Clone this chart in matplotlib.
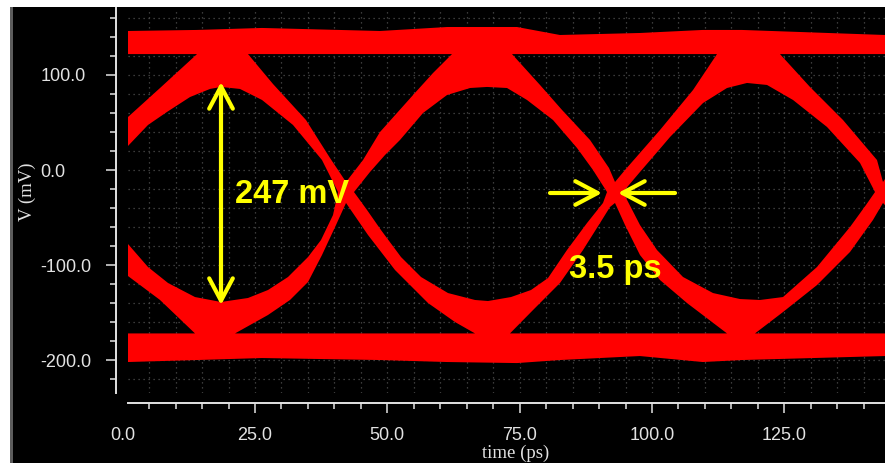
import matplotlib
matplotlib.use("Agg")
import numpy as np
import matplotlib.pyplot as plt
from matplotlib.path import Path
from matplotlib.patches import PathPatch, Rectangle
from matplotlib.ticker import MultipleLocator, FormatStrFormatter

plt.rcParams['font.family'] = ['Liberation Sans', 'DejaVu Sans']
plt.rcParams['axes.unicode_minus'] = False

# ---------------- data (time in ps, voltage in mV) -------------
# outer envelope of the red trace cloud
env_t = [1.0, 14.0, 26.3, 48.6, 61.3, 74.5, 82.6, 97.7, 109.6, 117.0, 144.02]
env_top = [146.3, 147.4, 149.5, 146.3, 150.5, 150.5, 142.1, 144.2, 147.4, 147.4, 142.1]
env_bot = [-202.1, -200.0, -197.9, -200.0, -202.1, -203.2, -200.0, -195.8, -202.1, -200.0, -195.8]

# eye openings (black areas inside the traces)
eye1_t = [1.00, 4.78, 8.37, 12.72, 16.49, 18.57, 22.16, 26.32, 32.17, 37.65, 40.68,
          39.73, 37.46, 35.01, 31.23, 27.45, 23.67, 18.57, 13.66, 8.56, 4.78, 1.00]
eye1_v = [25.3, 47.4, 61.1, 76.8, 85.3, 87.4, 85.3, 73.7, 47.4, 10.5, -23.2,
          -47.4, -73.7, -91.6, -112.6, -126.3, -134.7, -138.9, -133.7, -118.9, -102.1, -77.9]
eye2_t = [43.70, 46.72, 49.56, 52.39, 56.74, 61.27, 65.62, 68.83, 72.61, 76.38, 81.30, 85.83,
          88.85, 91.50, 90.74, 87.72, 83.94, 80.35, 77.14, 73.36, 69.01, 66.56, 61.46, 56.36,
          52.58, 48.80, 46.16]
eye2_v = [-23.2, -2.1, 15.8, 31.6, 60.0, 78.9, 86.3, 87.4, 86.3, 73.7, 52.6, 23.2,
          0.0, -23.2, -34.7, -55.8, -84.2, -113.7, -126.3, -133.7, -137.9, -136.8, -129.5, -112.6,
          -91.6, -63.2, -42.1]
eye3_t = [94.52, 97.73, 101.32, 103.40, 109.64, 114.17, 117.95, 121.73, 126.64, 133.06, 139.30,
          142.13, 140.43, 137.41, 131.17, 124.75, 120.41, 116.63, 111.53, 105.86, 100.94, 97.73]
eye3_v = [-23.2, -2.1, 21.1, 34.7, 70.5, 86.3, 91.6, 89.5, 73.7, 45.3, 7.4,
          -23.2, -36.8, -60.0, -102.1, -133.7, -136.8, -135.8, -129.5, -112.6, -84.2, -57.9]

# black gaps above the crossings (below the "1" band)
up0_t = [1.00, 14.04, 7.05, 1.00]
up0_v = [122.0, 122.0, 86.3, 55.8]
up1_t = [23.67, 28.40, 34.63, 39.17, 42.19, 45.40, 48.61, 54.85, 58.63, 62.21]
up1_v = [122.0, 90.5, 52.6, 12.6, -12.6, 10.5, 40.0, 78.9, 102.1, 122.0]
up2_t = [73.55, 78.84, 83.00, 88.29, 91.88, 93.01, 94.90, 101.51, 107.75, 112.28]
up2_v = [122.0, 89.5, 63.2, 31.6, 2.1, -12.6, 0.0, 42.1, 84.2, 122.0]
up3_t = [124.18, 129.85, 136.09, 142.51, 143.64, 144.02, 144.02]
up3_v = [122.0, 87.4, 52.6, 10.5, -12.6, -9.5, 122.0]

# black gaps below the crossings (above the "0" band)
low0_t = [1.00, 7.05, 13.66, 1.00]
low0_v = [-111.6, -136.8, -172.0, -172.0]
low1_t = [21.22, 27.45, 31.61, 35.01, 37.65, 40.30, 42.19, 46.34, 51.45, 57.68, 62.78, 66.56]
low1_v = [-172.0, -152.6, -136.8, -117.9, -89.5, -57.9, -34.7, -68.4, -105.3, -140.0, -160.0, -172.0]
low2_t = [73.17, 77.52, 82.62, 86.97, 90.18, 92.07, 93.01, 94.90, 97.73, 101.51, 106.61, 114.17]
low2_v = [-172.0, -147.4, -118.9, -84.2, -55.8, -38.9, -34.7, -57.9, -89.5, -115.8, -140.0, -172.0]
low3_t = [119.46, 124.75, 131.17, 137.41, 141.75, 143.64, 144.02, 144.02]
low3_v = [-172.0, -149.5, -121.1, -86.3, -52.6, -34.7, -37.0, -172.0]

# annotations
eye_height_label = "247 mV"
jitter_label = "3.5 ps"
vert_arrow_t = 18.57
vert_arrow_v = (92.6, -142.1)
jitter_v = -24.2
jitter_left = (80.73, 90.55)
jitter_right = (104.35, 93.58)

xtick_labels_first = "0.0"

# ---------------- figure ----------------
W, H = 885, 463
fig = plt.figure(figsize=(W / 100, H / 100), dpi=100, facecolor="black")
ax = fig.add_axes([128 / W, 70 / H, 757 / W, 385 / H])
ax.set_facecolor("black")
ax.set_xlim(1.0, 144.02)
ax.set_ylim(-234.7, 170.5)

# frame decorations of the screenshot
fig.patches.append(Rectangle((0, 1 - 7 / H), 1, 7 / H, transform=fig.transFigure,
                             facecolor="white", edgecolor="none", zorder=0))
fig.patches.append(Rectangle((0, 0), 10 / W, 1, transform=fig.transFigure,
                             facecolor="white", edgecolor="none", zorder=0))
fig.patches.append(Rectangle((10 / W, 0), 3 / W, 1 - 7 / H, transform=fig.transFigure,
                             facecolor="#5c5c5c", edgecolor="none", zorder=0))


def ring(ts, vs, sign):
    pts = np.column_stack([np.asarray(ts, float), np.asarray(vs, float)])
    x, y = pts[:, 0], pts[:, 1]
    area = 0.5 * np.sum(x * np.roll(y, -1) - np.roll(x, -1) * y)
    if area * sign < 0:
        pts = pts[::-1]
    return pts


rings = [ring(list(env_t) + list(env_t[::-1]), list(env_top) + list(env_bot[::-1]), +1)]
for ts, vs in [(eye1_t, eye1_v), (eye2_t, eye2_v), (eye3_t, eye3_v),
               (up0_t, up0_v), (up1_t, up1_v), (up2_t, up2_v), (up3_t, up3_v),
               (low0_t, low0_v), (low1_t, low1_v), (low2_t, low2_v), (low3_t, low3_v)]:
    rings.append(ring(ts, vs, -1))

verts, codes = [], []
for r in rings:
    verts.extend(r.tolist())
    verts.append(r[0].tolist())
    codes.extend([Path.MOVETO] + [Path.LINETO] * (len(r) - 1) + [Path.CLOSEPOLY])
ax.add_patch(PathPatch(Path(verts, codes), facecolor="#ff0000", edgecolor="none", zorder=2))

# grid
ax.set_axisbelow(True)
ax.xaxis.set_major_locator(MultipleLocator(25))
ax.xaxis.set_minor_locator(MultipleLocator(5))
ax.yaxis.set_major_locator(MultipleLocator(100))
ax.yaxis.set_minor_locator(MultipleLocator(20))
ax.xaxis.set_major_formatter(FormatStrFormatter("%.1f"))
ax.yaxis.set_major_formatter(FormatStrFormatter("%.1f"))
ax.grid(True, which="both", color="#4e4e4e", linestyle=(0, (1, 3)), linewidth=0.9)

# spines
axis_col = "#e2e2e2"
for s in ["top", "right"]:
    ax.spines[s].set_visible(False)
ax.spines["left"].set_position(("outward", 12 * 0.72))
ax.spines["bottom"].set_position(("outward", 10 * 0.72))
for s in ["left", "bottom"]:
    ax.spines[s].set_color(axis_col)
    ax.spines[s].set_linewidth(1.4)

ax.tick_params(axis="both", which="major", length=7.2, width=1.1, color=axis_col,
               labelcolor=axis_col, labelsize=13)
ax.tick_params(axis="both", which="minor", length=4.3, width=1.1, color=axis_col)
ax.tick_params(axis="x", which="major", pad=10)
ax.tick_params(axis="y", which="major", pad=47)
for lab in ax.get_yticklabels():
    lab.set_horizontalalignment("left")

ax.text(0.0, -0.088, xtick_labels_first, transform=ax.get_xaxis_transform(), ha="center",
        va="top", fontsize=13, color=axis_col, clip_on=False)

# axis titles
fig.text(516 / W, 1.5 / H, "time (ps)", ha="center", va="bottom", fontsize=13.5,
         color=axis_col, family=["Liberation Serif", "DejaVu Serif"])
fig.text(27 / W, 1 - 192 / H, "V (mV)", ha="center", va="center", rotation=90, fontsize=13.5,
         color=axis_col, family=["Liberation Serif", "DejaVu Serif"])

# annotations
yel = "#ffff00"
aprops = dict(color=yel, lw=3.0, shrinkA=0, shrinkB=0, mutation_scale=10,
              capstyle="round", joinstyle="round")
ax.annotate("", xy=(vert_arrow_t, vert_arrow_v[0]), xytext=(vert_arrow_t, vert_arrow_v[1]),
            arrowprops=dict(arrowstyle="<->,head_length=1.6,head_width=0.85", **aprops), zorder=5)
ax.annotate("", xy=(jitter_left[1], jitter_v), xytext=(jitter_left[0], jitter_v),
            arrowprops=dict(arrowstyle="->,head_length=1.6,head_width=0.85", **aprops), zorder=5)
ax.annotate("", xy=(jitter_right[1], jitter_v), xytext=(jitter_right[0], jitter_v),
            arrowprops=dict(arrowstyle="->,head_length=1.6,head_width=0.85", **aprops), zorder=5)
ax.text(21.22, -34.7, eye_height_label, color=yel, fontsize=23.5, fontweight="bold",
        ha="left", va="baseline", zorder=6)
ax.text(84.24, -113.7, jitter_label, color=yel, fontsize=23.5, fontweight="bold",
        ha="left", va="baseline", zorder=6)

fig.savefig("out.png", dpi=100, facecolor="black")
